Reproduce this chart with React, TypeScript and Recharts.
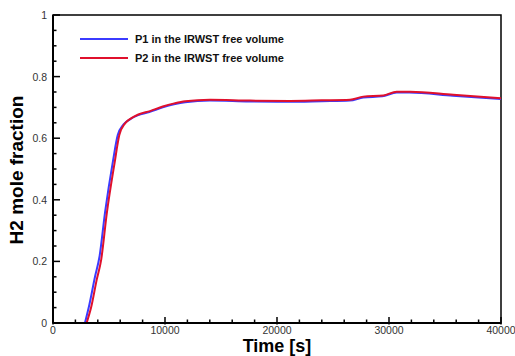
import React from "react";
import { LineChart, Line, XAxis, YAxis, ReferenceArea } from "recharts";

// data -----------------------------------------------------------------------
const timeP1 = [2850, 3250, 3750, 4150, 4650, 5350, 5780, 6300, 6900, 7550, 8600, 9800, 10800, 11800, 14000, 17500, 21000, 24000, 26500, 27700, 29400, 30700, 31800, 35700, 40000];
const moleP1 = [0, 0.06, 0.15, 0.215, 0.36, 0.525, 0.61, 0.645, 0.662, 0.674, 0.685, 0.7, 0.71, 0.717, 0.722, 0.719, 0.718, 0.72, 0.722, 0.732, 0.736, 0.748, 0.748, 0.738, 0.727];
const timeP2 = [3000, 3400, 3900, 4300, 4800, 5500, 5920, 6430, 7000, 7620, 8660, 9800, 10830, 11800, 14020, 17590, 21160, 24000, 26520, 27700, 29490, 30690, 31880, 35740, 40000];
const moleP2 = [0, 0.05, 0.14, 0.205, 0.355, 0.52, 0.61, 0.648, 0.665, 0.677, 0.688, 0.703, 0.713, 0.72, 0.725, 0.722, 0.721, 0.723, 0.725, 0.735, 0.739, 0.751, 0.751, 0.741, 0.73];

const xTicks = [0, 2000, 4000, 6000, 8000, 10000, 12000, 14000, 16000, 18000, 20000, 22000, 24000, 26000, 28000, 30000, 32000, 34000, 36000, 38000, 40000];
const yTicks = [0, 0.05, 0.1, 0.15, 0.2, 0.25, 0.3, 0.35, 0.4, 0.45, 0.5, 0.55, 0.6, 0.65, 0.7, 0.75, 0.8, 0.85, 0.9, 0.95, 1];
const seriesNames = ["P1 in the IRWST free volume", "P2 in the IRWST free volume"];

const BLUE = "#3b3bff";
const RED = "#e0102c";
const FONT = "Arial, 'Liberation Sans', sans-serif";

const p1 = timeP1.map((t, i) => ({ t, v: moleP1[i] }));
const p2 = timeP2.map((t, i) => ({ t, v: moleP2[i] }));

const isMajorX = (t: number) => t % 10000 === 0;
const isMajorY = (v: number) => Math.round(v * 100) % 20 === 0;

// tick marks point inward; labels only on majors
const XTick = (props: any) => {
  const { x, y, payload } = props;
  const major = isMajorX(payload.value);
  return (
    <g>
      <path d={`M${x},${y + (major ? 1.5 : 0)}V${y - (major ? 6 : 3.5)}`} stroke="#000" strokeWidth={1.5} fill="none" />
      {major && (
        <text x={x} y={y + 11} textAnchor="middle" fontSize={10.5} fontFamily={FONT} fill="#333">
          {payload.value}
        </text>
      )}
    </g>
  );
};

const YTick = (props: any) => {
  const { x, y, payload } = props;
  const major = isMajorY(payload.value);
  return (
    <g>
      <path d={`M${x},${y}H${x + (major ? 7 : 3.5)}`} stroke="#000" strokeWidth={1.5} fill="none" />
      {major && (
        <text x={x - 6} y={y + 4} textAnchor="end" fontSize={10.5} fontFamily={FONT} fill="#333">
          {payload.value}
        </text>
      )}
    </g>
  );
};

const App: React.FC = () => {
  return (
    <div style={{ position: "absolute", left: 0, top: 0, width: 515, height: 356, background: "#fff" }}>
      <LineChart width={515} height={356} margin={{ top: 15, right: 14, bottom: 3, left: 0 }}>
        <ReferenceArea x1={0} x2={40000} y1={0} y2={1} fill="none" stroke="#000" strokeWidth={1.5} ifOverflow="visible" />
        <Line data={p1} dataKey="v" name={seriesNames[0]} type="monotone" stroke={BLUE} strokeWidth={2} dot={false} isAnimationActive={false} />
        <Line data={p2} dataKey="v" name={seriesNames[1]} type="monotone" stroke={RED} strokeWidth={2} dot={false} isAnimationActive={false} />
        <XAxis
          type="number"
          dataKey="t"
          domain={[0, 40000]}
          ticks={xTicks}
          interval={0}
          height={30}
          tickSize={0}
          tickMargin={0}
          tickLine={false}
          tick={<XTick />}
          axisLine={{ stroke: "#000", strokeWidth: 2 }}
          allowDataOverflow
          label={() => (
            <text x={277} y={352} textAnchor="middle" fontSize={18} fontWeight="bold" fontFamily={FONT} fill="#000">
              Time [s]
            </text>
          )}
        />
        <YAxis
          type="number"
          domain={[0, 1]}
          ticks={yTicks}
          interval={0}
          width={53}
          tickSize={0}
          tickMargin={0}
          tickLine={false}
          tick={<YTick />}
          axisLine={{ stroke: "#000", strokeWidth: 2 }}
          allowDataOverflow
          label={() => (
            <text x={23} y={170} transform="rotate(-90 23 170)" textAnchor="middle" fontSize={19} fontWeight="bold" fontFamily={FONT} fill="#000">
              H2 mole fraction
            </text>
          )}
        />
      </LineChart>
      {/* legend */}
      <div style={{ position: "absolute", left: 80, top: 29, fontFamily: FONT, fontSize: 11, fontWeight: "bold", color: "#111" }}>
        {seriesNames.map((n, i) => (
          <div key={n} style={{ display: "flex", alignItems: "center", height: 19 }}>
            <svg width={50} height={4} style={{ marginRight: 5 }}>
              <line x1={0} x2={48} y1={2} y2={2} stroke={i === 0 ? BLUE : RED} strokeWidth={2} />
            </svg>
            <span>{n}</span>
          </div>
        ))}
      </div>
    </div>
  );
};

export default App;
